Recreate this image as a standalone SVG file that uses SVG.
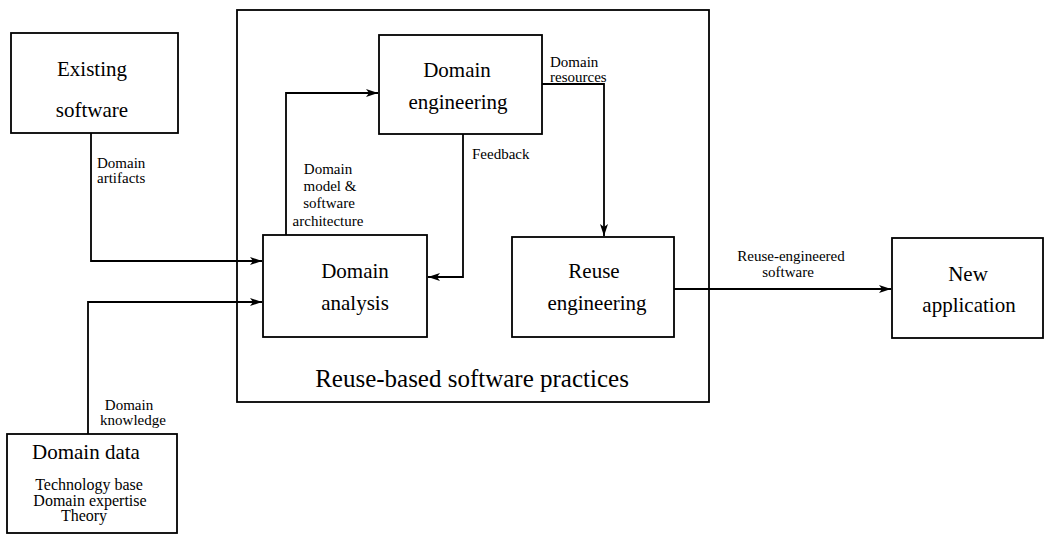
<svg xmlns="http://www.w3.org/2000/svg" width="1047" height="534" viewBox="0 0 1047 534">
<style>
.box{fill:#fff;stroke:#000;stroke-width:1.8}
.frame{fill:none;stroke:#000;stroke-width:1.8}
.con{fill:none;stroke:#000;stroke-width:1.8;marker-end:url(#ah)}
.big{font-size:21px;text-anchor:middle}
.title{font-size:25px;text-anchor:middle}
.lbl{font-size:15px}
.mid{text-anchor:middle}
.sub{font-size:16px;text-anchor:middle}
</style>
<defs>
<marker id="ah" markerUnits="userSpaceOnUse" markerWidth="14" markerHeight="10" refX="12" refY="4" orient="auto">
<path d="M0,0 L12,4 L0,8 L3,4 z" fill="#000"/>
</marker>
</defs>
<g font-family="Times New Roman, Liberation Serif, DejaVu Serif, serif" fill="#000">
<g id="reuse-practices">
<rect class="frame" x="237" y="10" width="472" height="392"/>
<text class="title" x="472" y="387">Reuse-based software practices</text>
</g>
<g id="connectors">
<path class="con" d="M91 133 V261 H262"/>
<path class="con" d="M88 434 V302 H262"/>
<path class="con" d="M286 235 V93 H378"/>
<path class="con" d="M463 134 V277 H428"/>
<path class="con" d="M542 84 H604 V236"/>
<path class="con" d="M674 289 H891"/>
<text class="lbl" x="97" y="168">Domain</text>
<text class="lbl" x="97" y="183">artifacts</text>
<text class="lbl mid" x="129" y="410">Domain</text>
<text class="lbl mid" x="133" y="425">knowledge</text>
<text class="lbl mid" x="328" y="174">Domain</text>
<text class="lbl mid" x="330" y="191">model &amp;</text>
<text class="lbl mid" x="329" y="208">software</text>
<text class="lbl mid" x="328" y="226">architecture</text>
<text class="lbl" x="472" y="159">Feedback</text>
<text class="lbl" x="550" y="67">Domain</text>
<text class="lbl" x="550" y="82">resources</text>
<text class="lbl mid" x="791" y="261">Reuse-engineered</text>
<text class="lbl mid" x="788" y="277">software</text>
</g>
<g id="existing-software">
<rect class="box" x="11" y="33" width="167" height="100"/>
<text class="big" x="92" y="76">Existing</text>
<text class="big" x="92" y="117">software</text>
</g>
<g id="domain-engineering">
<rect class="box" x="379" y="35" width="163" height="99"/>
<text class="big" x="457" y="77">Domain</text>
<text class="big" x="458" y="109">engineering</text>
</g>
<g id="domain-analysis">
<rect class="box" x="263" y="235" width="164" height="102"/>
<text class="big" x="355" y="278">Domain</text>
<text class="big" x="355" y="310">analysis</text>
</g>
<g id="reuse-engineering">
<rect class="box" x="512" y="237" width="162" height="100"/>
<text class="big" x="594" y="278">Reuse</text>
<text class="big" x="597" y="310">engineering</text>
</g>
<g id="new-application">
<rect class="box" x="892" y="238" width="151" height="100"/>
<text class="big" x="968" y="281">New</text>
<text class="big" x="969" y="312">application</text>
</g>
<g id="domain-data">
<rect class="box" x="7" y="434" width="170" height="99"/>
<text class="big" x="86" y="459">Domain data</text>
<text class="sub" x="89" y="490">Technology base</text>
<text class="sub" x="90" y="505.5">Domain expertise</text>
<text class="sub" x="84" y="521">Theory</text>
</g>
</g>
</svg>
